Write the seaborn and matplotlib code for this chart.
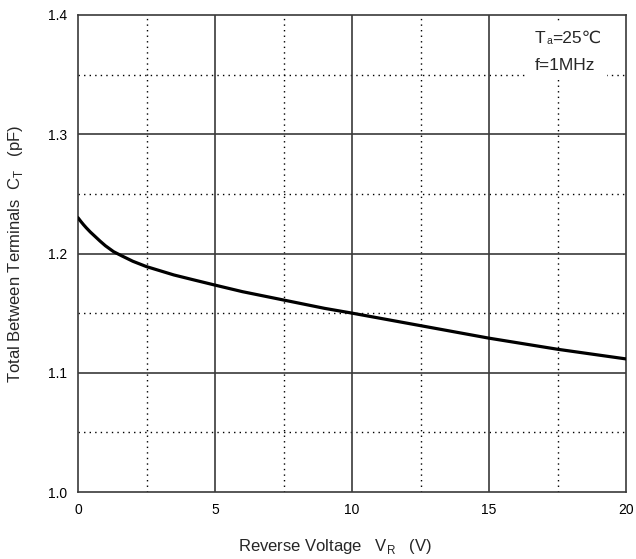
import matplotlib
matplotlib.use("Agg")
import matplotlib.pyplot as plt
import pandas as pd
import seaborn as sns

# Reverse voltage (V) and total capacitance (pF)
vr = [0, 0.1, 0.2, 0.3, 0.45, 0.6, 0.8, 1.0, 1.3, 1.6, 2.0, 2.5, 3.0, 3.5, 4.2,
      5, 6, 7.5, 9, 10, 12.5, 15, 17.5, 20]
ct = [1.230, 1.227, 1.2242, 1.2216, 1.218, 1.2148, 1.2105, 1.2065, 1.2015, 1.198,
      1.1935, 1.189, 1.1855, 1.182, 1.178, 1.1735, 1.168, 1.161, 1.154, 1.150,
      1.1395, 1.129, 1.1197, 1.1116]

x_ticks = [0, 5, 10, 15, 20]
y_ticks = [1.0, 1.1, 1.2, 1.3, 1.4]
x_minor = [2.5, 7.5, 12.5, 17.5]
y_minor = [1.05, 1.15, 1.25, 1.35]

df = pd.DataFrame({"VR": vr, "CT": ct})

sns.set_style("white")
plt.rcParams["font.family"] = ["Liberation Sans", "DejaVu Sans"]
plt.rcParams["mathtext.fontset"] = "custom"
plt.rcParams["mathtext.rm"] = "Liberation Sans"

fig = plt.figure(figsize=(6.36, 5.59), dpi=100)
ax = fig.add_axes([78 / 636, 1 - 492 / 559, 548 / 636, 477 / 559])

# grid
for v in x_minor:
    ax.axvline(v, color="black", lw=1.0, ls=(0, (1, 3)), zorder=1)
for v in y_minor:
    ax.axhline(v, color="black", lw=1.0, ls=(0, (1, 3)), zorder=1)
for v in x_ticks[1:-1]:
    ax.axvline(v, color="#3a3a3a", lw=1.2, zorder=1)
for v in y_ticks[1:-1]:
    ax.axhline(v, color="#3a3a3a", lw=1.2, zorder=1)

sns.lineplot(data=df, x="VR", y="CT", color="black", lw=2.3, ax=ax, zorder=3)

ax.set_xlim(0, 20)
ax.set_ylim(1.0, 1.4)
ax.set_xticks(x_ticks)
ax.set_yticks(y_ticks)
ax.set_xticklabels([str(t) for t in x_ticks])
ax.set_yticklabels([f"{t:.1f}" for t in y_ticks])
ax.tick_params(length=0, labelsize=10, pad=8, colors="black")

for s in ax.spines.values():
    s.set_color("#3a3a3a")
    s.set_linewidth(1.2)

ax.set_xlabel(r"Reverse Voltage   V$_\mathregular{R}$   (V)", fontsize=12)
ax.set_ylabel(r"Total Between Terminals  C$_\mathregular{T}$   (pF)", fontsize=12)
ax.xaxis.set_label_coords(0.469, -0.095)
ax.yaxis.set_label_coords(-0.097, 0.5)

# condition note, on a white patch that breaks the grid
ax.add_patch(plt.Rectangle((16.3, 1.347), 3.0, 0.047, facecolor="white",
                           edgecolor="none", zorder=2))
t1 = ax.text(16.68, 1.3765, "T", fontsize=12.5, va="baseline", ha="left", zorder=4)
ta = ax.annotate("a", xy=(1, 0), xycoords=t1, xytext=(0.3, 0),
                 textcoords="offset points", fontsize=7.5, va="bottom", zorder=4)
ax.annotate("=25\u2103", xy=(1, 0), xycoords=(ta, t1), xytext=(0.2, 0),
            textcoords="offset points", fontsize=12.5, va="bottom", zorder=4)
ax.text(16.68, 1.3539, "f=1MHz", fontsize=12.5, va="baseline", ha="left", zorder=4)

fig.savefig("out.png", dpi=100)
